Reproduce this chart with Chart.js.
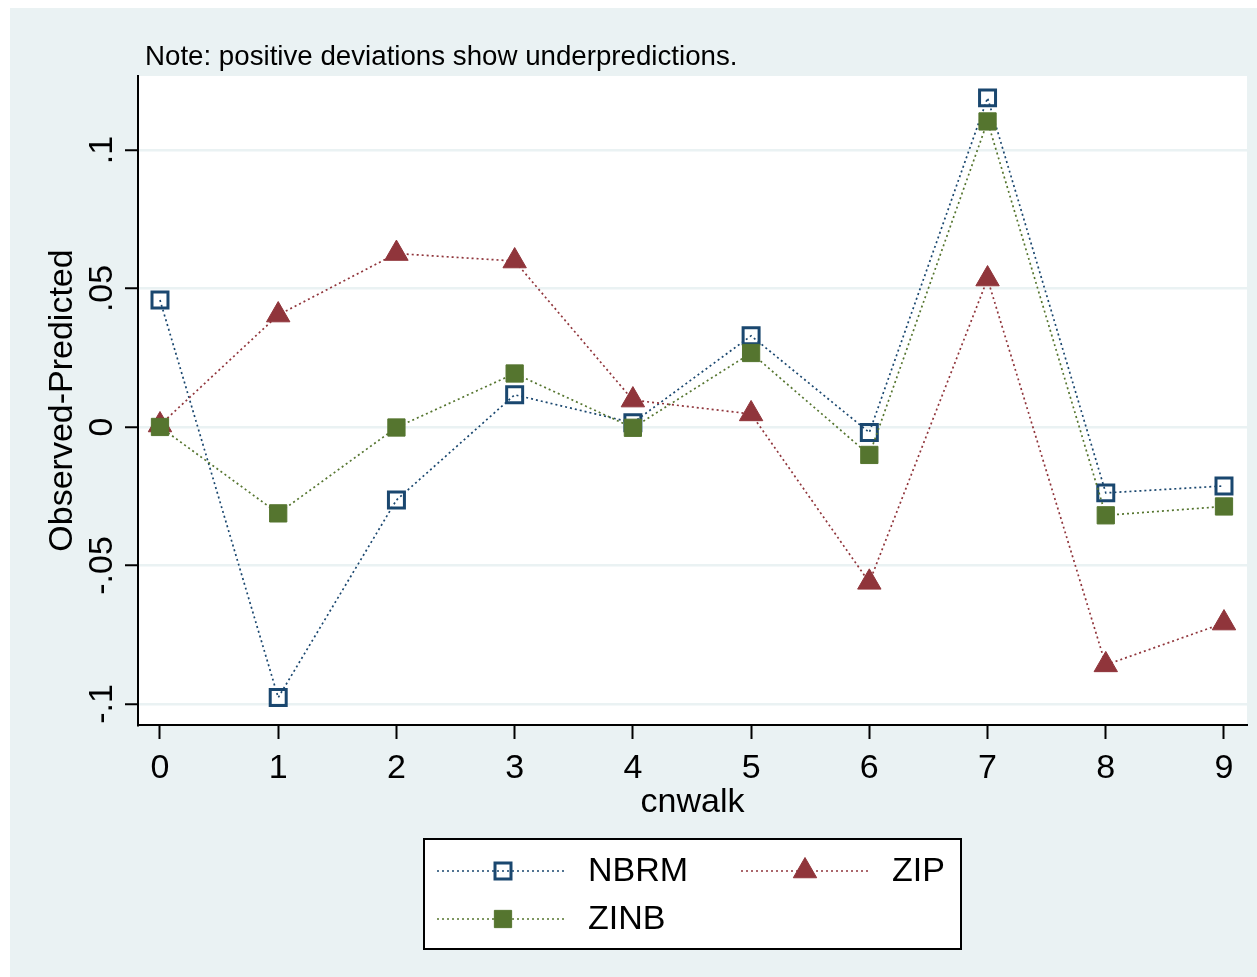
<!DOCTYPE html>
<html><head><meta charset="utf-8">
<script src="https://cdn.jsdelivr.net/npm/chart.js@4.4.0/dist/chart.umd.min.js"></script>
<style>html,body{margin:0;padding:0;background:#fff;overflow:hidden}</style>
</head><body>
<canvas id="c" width="1257" height="977"></canvas>
<script>
// ---- data ----
const categories = [0, 1, 2, 3, 4, 5, 6, 7, 8, 9];
const nbrmValues = [0.0458, -0.0977, -0.0264, 0.0116, 0.0015, 0.0329, -0.0020, 0.1188, -0.0238, -0.0213];
const zipValues  = [0.0007, 0.0404, 0.0626, 0.0599, 0.0097, 0.0047, -0.0561, 0.0534, -0.0859, -0.0708];
const zinbValues = [0.0000, -0.0312, -0.0002, 0.0193, -0.0003, 0.0267, -0.0101, 0.1103, -0.0319, -0.0287];
const seriesNames = ['NBRM', 'ZIP', 'ZINB'];
const yTickValues = [-0.1, -0.05, 0, 0.05, 0.1];
const yTickLabels = ['-.1', '-.05', '0', '.05', '.1'];
const xTickValues = categories;
const xTitle = 'cnwalk';
const yTitle = 'Observed-Predicted';
const noteText = 'Note: positive deviations show underpredictions.';

const FONT = '"Liberation Sans", Arial, sans-serif';
const BG = '#EAF2F3';
const DASH = [2, 3];

function pts(vals) { return categories.map((c, i) => ({x: c, y: vals[i]})); }

const datasets = [
  {label: seriesNames[0], data: pts(nbrmValues), borderColor: '#1A476F', backgroundColor: '#1A476F',
   pointStyle: 'rect', pointRadius: 11.3, pointBorderWidth: 3, pointBackgroundColor: 'rgba(0,0,0,0)',
   pointBorderColor: '#1A476F', order: 3},
  {label: seriesNames[1], data: pts(zipValues), borderColor: '#90353B', backgroundColor: '#90353B',
   pointStyle: 'triangle', pointRadius: 13.5, pointBorderWidth: 1, pointBackgroundColor: '#90353B',
   pointBorderColor: '#90353B', order: 2},
  {label: seriesNames[2], data: pts(zinbValues), borderColor: '#55752F', backgroundColor: '#55752F',
   pointStyle: 'rect', pointRadius: 12.2, pointBorderWidth: 1, pointBackgroundColor: '#55752F',
   pointBorderColor: '#55752F', order: 1}
];
datasets.forEach(d => { d.borderWidth = 1.7; d.borderDash = DASH; d.fill = false; d.tension = 0; d.showLine = true; });

const bgPlugin = {
  id: 'bg',
  beforeDraw(chart) {
    const {ctx, chartArea: a} = chart;
    ctx.save();
    ctx.fillStyle = '#ffffff';
    ctx.fillRect(0, 0, chart.width, chart.height);
    ctx.fillStyle = BG;
    ctx.fillRect(10, 8, chart.width - 10, chart.height - 8);
    ctx.fillStyle = '#ffffff';
    ctx.fillRect(a.left, a.top, a.right - a.left, a.bottom - a.top);
    ctx.restore();
  }
};

const notePlugin = {
  id: 'note',
  afterDraw(chart) {
    const ctx = chart.ctx;
    ctx.save();
    ctx.fillStyle = '#000';
    ctx.font = '27.7px ' + FONT;
    ctx.textAlign = 'left';
    ctx.textBaseline = 'alphabetic';
    ctx.fillText(noteText, 145, 65);
    ctx.restore();
  }
};

const legendPlugin = {
  id: 'customLegend',
  afterDraw(chart) {
    const ctx = chart.ctx;
    const box = {x: 424, y: 839, w: 537, h: 110};
    ctx.save();
    ctx.fillStyle = '#fff';
    ctx.fillRect(box.x, box.y, box.w, box.h);
    ctx.strokeStyle = '#000';
    ctx.lineWidth = 2;
    ctx.strokeRect(box.x, box.y, box.w, box.h);
    const slots = [
      {ds: 0, x0: 437, x1: 565, mx: 503, tx: 588, y: 871},
      {ds: 1, x0: 741, x1: 868, mx: 805, tx: 892, y: 871},
      {ds: 2, x0: 437, x1: 565, mx: 503, tx: 588, y: 919}
    ];
    slots.forEach(s => {
      const d = chart.data.datasets[s.ds];
      ctx.save();
      ctx.strokeStyle = d.borderColor;
      ctx.lineWidth = d.borderWidth;
      ctx.setLineDash(d.borderDash);
      ctx.beginPath();
      ctx.moveTo(s.x0, s.y);
      ctx.lineTo(s.x1, s.y);
      ctx.stroke();
      ctx.restore();
      ctx.save();
      ctx.setLineDash([]);
      ctx.fillStyle = d.pointBackgroundColor;
      ctx.strokeStyle = d.pointBorderColor;
      ctx.lineWidth = d.pointBorderWidth;
      Chart.helpers.drawPoint(ctx, {pointStyle: d.pointStyle, radius: d.pointRadius, rotation: 0, borderWidth: d.pointBorderWidth}, s.mx, s.y);
      ctx.restore();
      ctx.fillStyle = '#000';
      ctx.font = '34px ' + FONT;
      ctx.textAlign = 'left';
      ctx.textBaseline = 'middle';
      ctx.fillText(d.label, s.tx, s.y + 1);
    });
    ctx.restore();
  }
};

new Chart(document.getElementById('c'), {
  type: 'line',
  data: {datasets},
  options: {
    responsive: false,
    animation: false,
    devicePixelRatio: 1,
    layout: {autoPadding: false, padding: {left: 0, right: 10, top: 76, bottom: 0}},
    plugins: {legend: {display: false}, tooltip: {enabled: false}, title: {display: false}},
    scales: {
      x: {
        type: 'linear',
        min: -0.186, max: 9.1946,
        afterBuildTicks: s => { s.ticks = xTickValues.map(v => ({value: v})); },
        afterFit: s => { s.height = 252; s.paddingLeft = 0; s.paddingRight = 0; },
        grid: {drawOnChartArea: false, drawTicks: true, tickLength: 14, tickColor: '#000', tickWidth: 2, color: '#000'},
        border: {display: true, color: '#000', width: 2},
        ticks: {font: {size: 34, family: FONT}, color: '#000', padding: 9, maxRotation: 0, minRotation: 0,
                callback: v => String(v)},
        title: {display: true, text: xTitle, font: {size: 34, family: FONT}, color: '#000',
                padding: {top: 0, bottom: 154}}
      },
      y: {
        type: 'linear',
        min: -0.1076, max: 0.1267,
        afterBuildTicks: s => { s.ticks = yTickValues.map(v => ({value: v})); },
        afterFit: s => { s.width = 138; s.paddingTop = 0; s.paddingBottom = 0; },
        grid: {drawOnChartArea: true, color: BG, lineWidth: 2.5, drawTicks: true, tickLength: 13, tickColor: '#000', tickWidth: 2},
        border: {display: true, color: '#000', width: 2},
        ticks: {font: {size: 34, family: FONT}, color: '#000', padding: -7, minRotation: 90, maxRotation: 90,
                crossAlign: 'center',
                callback: v => { const i = yTickValues.findIndex(t => Math.abs(t - v) < 1e-9); return i >= 0 ? yTickLabels[i] : ''; }},
        title: {display: true, text: yTitle, font: {size: 34, family: FONT}, color: '#000',
                padding: {top: 42, bottom: 0}}
      }
    }
  },
  plugins: [bgPlugin, notePlugin, legendPlugin]
});
</script>
</body></html>
